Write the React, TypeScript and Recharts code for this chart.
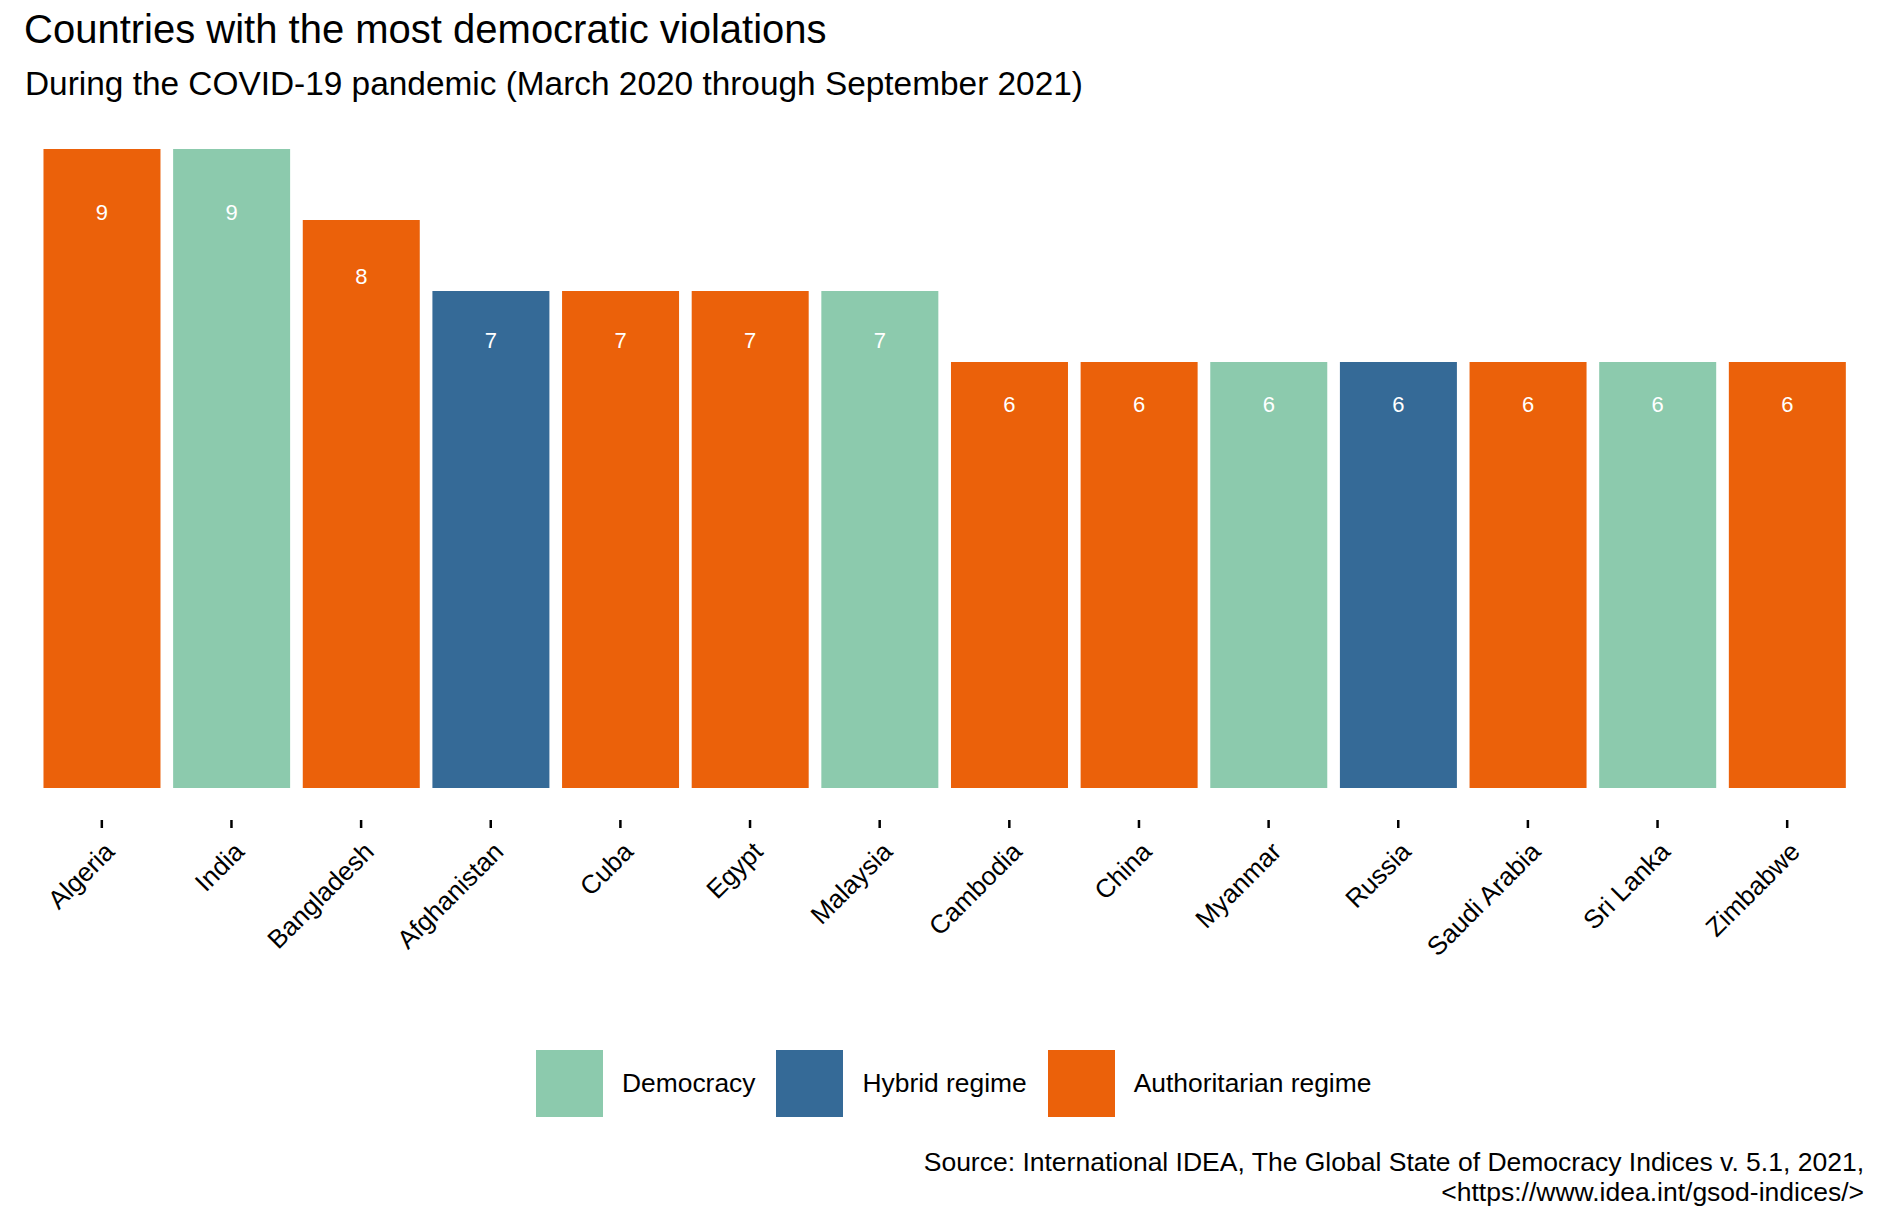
import React from "react";
import { BarChart, Bar, XAxis, YAxis, Cell, LabelList } from "recharts";

const countries = [
  "Algeria",
  "India",
  "Bangladesh",
  "Afghanistan",
  "Cuba",
  "Egypt",
  "Malaysia",
  "Cambodia",
  "China",
  "Myanmar",
  "Russia",
  "Saudi Arabia",
  "Sri Lanka",
  "Zimbabwe",
];
const violations = [9, 9, 8, 7, 7, 7, 7, 6, 6, 6, 6, 6, 6, 6];
const regimes = [
  "Authoritarian regime",
  "Democracy",
  "Authoritarian regime",
  "Hybrid regime",
  "Authoritarian regime",
  "Authoritarian regime",
  "Democracy",
  "Authoritarian regime",
  "Authoritarian regime",
  "Democracy",
  "Hybrid regime",
  "Authoritarian regime",
  "Democracy",
  "Authoritarian regime",
];
const legendOrder = ["Democracy", "Hybrid regime", "Authoritarian regime"];

const regimeColors: Record<string, string> = {
  Democracy: "#8ccaad",
  "Hybrid regime": "#356a97",
  "Authoritarian regime": "#eb610a",
};

const font = "'Liberation Sans', Arial, sans-serif";

const data = countries.map((c, i) => ({
  country: c,
  n: violations[i],
  regime: regimes[i],
}));

// rotated category labels, top-right corner sits under the tick
const AngledTick = (props: any) => {
  const { x, y, payload } = props;
  return (
    <text
      transform={`translate(${x + 1},${y}) rotate(-45)`}
      textAnchor="end"
      dy="0.72em"
      fontSize={26}
      fontFamily={font}
      fill="#000"
    >
      {payload.value}
    </text>
  );
};

// value printed at 90% of the bar height
const ValueLabel = (props: any) => {
  const { x, y, width, height, value } = props;
  return (
    <text
      x={x + width / 2}
      y={y + height * 0.1}
      textAnchor="middle"
      dominantBaseline="central"
      fontSize={22}
      fontFamily={font}
      fill="#ffffff"
    >
      {value}
    </text>
  );
};

export default function App() {
  return (
    <div
      style={{
        position: "absolute",
        left: 0,
        top: 0,
        width: 1881,
        height: 1222,
        background: "#fff",
        fontFamily: font,
      }}
    >
      <svg
        width={1881}
        height={1222}
        style={{ position: "absolute", left: 0, top: 0 }}
      >
        <text x={24} y={43} fontSize={40} fontFamily={font} fill="#000">
          Countries with the most democratic violations
        </text>
        <text x={25} y={95} fontSize={33.4} fontFamily={font} fill="#000">
          During the COVID-19 pandemic (March 2020 through September 2021)
        </text>
        <text
          x={1864}
          y={1171}
          fontSize={26.5}
          fontFamily={font}
          fill="#000"
          textAnchor="end"
        >
          Source: International IDEA, The Global State of Democracy Indices v.
          5.1, 2021,
        </text>
        <text
          x={1864}
          y={1201}
          fontSize={26.5}
          fontFamily={font}
          fill="#000"
          textAnchor="end"
        >
          {"<https://www.idea.int/gsod-indices/>"}
        </text>
      </svg>

      <div style={{ position: "absolute", left: 0, top: 0 }}>
        <BarChart
          width={1881}
          height={1020}
          data={data}
          margin={{ top: 117, right: 29, bottom: 0, left: 37 }}
          barCategoryGap="5%"
        >
          <YAxis hide type="number" scale="linear" domain={[-0.45, 9.45]} />
          <XAxis
            dataKey="country"
            axisLine={false}
            tickLine={{ stroke: "#000", strokeWidth: 2.5 }}
            tickSize={8}
            tickMargin={12}
            interval={0}
            height={200}
            tick={<AngledTick />}
          />
          <Bar dataKey="n" isAnimationActive={false}>
            {data.map((d, i) => (
              <Cell key={i} fill={regimeColors[d.regime]} />
            ))}
            <LabelList dataKey="n" content={<ValueLabel />} />
          </Bar>
        </BarChart>
      </div>

      {/* Legend */}
      <div
        style={{
          position: "absolute",
          left: 536,
          top: 1050,
          display: "flex",
          alignItems: "center",
          height: 67,
        }}
      >
        {legendOrder.map((r) => (
          <div
            key={r}
            style={{ display: "flex", alignItems: "center", marginRight: 21 }}
          >
            <div
              style={{
                width: 67,
                height: 67,
                background: regimeColors[r],
                marginRight: 19,
              }}
            />
            <span style={{ fontSize: 26.4, color: "#000" }}>{r}</span>
          </div>
        ))}
      </div>
    </div>
  );
}
